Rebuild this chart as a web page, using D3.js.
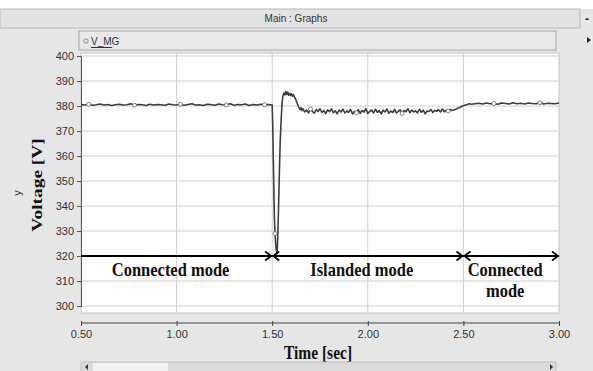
<!DOCTYPE html>
<html>
<head>
<meta charset="utf-8">
<script src="https://cdn.jsdelivr.net/npm/d3@7"></script>
<style>
  html, body { margin: 0; padding: 0; background: #e6e6e6; }
  svg { display: block; }
</style>
</head>
<body>
<div id="chart"></div>
<script>
// V_MG samples [time (s), voltage (V)]
const connectedBefore = [
  [0.50,380.6],[0.52,380.4],[0.54,380.7],[0.56,380.3],[0.58,380.5],[0.60,380.8],[0.62,380.4],[0.64,380.6],[0.66,380.2],[0.68,380.5],
  [0.70,380.7],[0.72,380.4],[0.74,380.5],[0.76,380.9],[0.78,380.3],[0.80,380.6],[0.82,380.5],[0.84,380.2],[0.86,380.7],[0.88,380.4],
  [0.90,380.6],[0.92,380.5],[0.94,380.3],[0.96,380.8],[0.98,380.5],[1.00,380.4],[1.02,380.7],[1.04,380.3],[1.06,380.6],[1.08,380.9],
  [1.10,380.4],[1.12,380.5],[1.14,380.2],[1.16,380.7],[1.18,380.6],[1.20,380.3],[1.22,380.8],[1.24,380.5],[1.26,380.4],[1.28,380.9],
  [1.30,380.3],[1.32,380.6],[1.34,380.5],[1.36,380.8],[1.38,380.2],[1.40,380.6],[1.42,380.4],[1.44,380.7],[1.46,380.5],[1.48,380.6]
];
const islandingDip = [
  [1.500,380.4],[1.503,372],[1.506,358],[1.509,345],[1.512,334],[1.515,329],[1.518,325],[1.521,322.5],[1.524,321.5],[1.527,323],
  [1.530,330],[1.534,342],[1.538,355],[1.542,366],[1.547,375],[1.552,381.5],[1.556,384],[1.561,385.2],[1.566,384.4],[1.571,385.8],
  [1.576,384.6],[1.581,385.6],[1.586,384.3],[1.591,385.1],[1.596,384.2],[1.601,384.9],[1.606,383.9],[1.611,384.5],[1.616,383.6],[1.621,383.0],
  [1.626,382.0],[1.631,381.0],[1.636,380.0],[1.641,379.2],[1.646,378.6],[1.651,379.3],[1.656,378.2]
];
const islanded = [
  [1.66,378.9],[1.67,377.6],[1.68,378.4],[1.69,377.2],[1.70,378.8],[1.71,377.9],[1.72,377.1],[1.73,378.6],[1.74,377.8],[1.75,378.9],
  [1.76,377.4],[1.77,378.2],[1.78,377.0],[1.79,378.5],[1.80,377.7],[1.81,378.8],[1.82,377.3],[1.83,378.1],[1.84,376.9],[1.85,378.4],
  [1.86,377.6],[1.87,378.7],[1.88,377.2],[1.89,378.0],[1.90,377.5],[1.91,378.6],[1.92,376.8],[1.93,377.9],[1.94,377.3],[1.95,378.5],
  [1.96,377.1],[1.97,378.2],[1.98,377.6],[1.99,378.9],[2.00,377.0],[2.01,377.8],[2.02,378.4],[2.03,377.2],[2.04,378.7],[2.05,377.5],
  [2.06,378.1],[2.07,376.9],[2.08,378.3],[2.09,377.6],[2.10,378.8],[2.11,377.1],[2.12,378.0],[2.13,377.4],[2.14,378.6],[2.15,377.2],
  [2.16,377.9],[2.17,378.5],[2.18,377.0],[2.19,378.2],[2.20,377.7],[2.21,378.9],[2.22,377.3],[2.23,378.4],[2.24,377.6],[2.25,378.1],
  [2.26,377.2],[2.27,378.7],[2.28,377.5],[2.29,378.3],[2.30,376.9],[2.31,378.0],[2.32,377.8],[2.33,378.6],[2.34,377.4],[2.35,378.2],
  [2.36,377.9],[2.37,378.5],[2.38,377.6],[2.39,378.8],[2.40,377.7],[2.41,378.3],[2.42,378.0],[2.43,378.6],[2.44,378.2]
];
const reconnect = [
  [2.45,378.4],[2.46,378.7],[2.47,379.1],[2.48,379.4],[2.49,379.8],[2.50,380.1],[2.51,380.4],[2.52,380.6],[2.53,380.9],[2.54,380.7]
];
const connectedAfter = [
  [2.56,380.9],[2.58,381.1],[2.60,380.8],[2.62,381.2],[2.64,380.9],[2.66,381.0],[2.68,380.7],[2.70,381.2],[2.72,381.0],[2.74,380.8],
  [2.76,381.3],[2.78,380.9],[2.80,381.1],[2.82,380.8],[2.84,381.2],[2.86,381.0],[2.88,380.9],[2.90,381.3],[2.92,380.8],[2.94,381.1],
  [2.96,381.0],[2.98,380.9],[3.00,381.2]
];
const markerTimes = [0.54, 0.78, 1.02, 1.26, 1.46, 1.515, 1.70, 1.94, 2.18, 2.42, 2.66, 2.90];

const xTicks = [0.5, 1.0, 1.5, 2.0, 2.5, 3.0];
const yTicks = [300, 310, 320, 330, 340, 350, 360, 370, 380, 390, 400];

const modes = [
  {label: ["Connected mode"], start: 0.5, end: 1.5, arrowStart: false},
  {label: ["Islanded mode"], start: 1.5, end: 2.5, arrowStart: true},
  {label: ["Connected", "mode"], start: 2.5, end: 3.0, arrowStart: true}
];
const modeLevel = 320;

const series = [].concat(connectedBefore, islandingDip, islanded, reconnect, connectedAfter);

const W = 593, H = 371;
const plot = {left: 81, right: 559, top: 56, bottom: 306};
const serif = "'Liberation Serif', 'Times New Roman', serif";
const sans = "'Liberation Sans', Arial, sans-serif";

const svg = d3.select("#chart").append("svg")
  .attr("width", W)
  .attr("height", H);

svg.append("rect").attr("width", W).attr("height", H).attr("fill", "#e6e6e6");
svg.append("rect").attr("width", W).attr("height", 9).attr("fill", "#ffffff");

// window title bar
svg.append("rect")
  .attr("x", 0).attr("y", 9).attr("width", 580).attr("height", 19)
  .attr("fill", "#e2e2e2").attr("stroke", "#b8b8b8");
svg.append("text")
  .attr("x", 296).attr("y", 22)
  .attr("text-anchor", "middle")
  .attr("font-family", sans).attr("font-size", "10px").attr("fill", "#333")
  .text("Main : Graphs");
svg.append("text")
  .attr("x", 587).attr("y", 23)
  .attr("text-anchor", "middle")
  .attr("font-family", sans).attr("font-size", "12px").attr("font-weight", "bold").attr("fill", "#222")
  .text("-");
svg.append("path").attr("d", "M587,37 L591,40 L587,43 Z").attr("fill", "#222");

// legend strip
svg.append("rect")
  .attr("x", 79).attr("y", 31).attr("width", 477).attr("height", 19)
  .attr("fill", "#e9e9e9").attr("stroke", "#a8a8a8");
svg.append("circle")
  .attr("cx", 86).attr("cy", 41).attr("r", 2.2)
  .attr("fill", "none").attr("stroke", "#777").attr("stroke-width", 0.8);
svg.append("text")
  .attr("x", 91).attr("y", 45)
  .attr("font-family", sans).attr("font-size", "10px").attr("fill", "#333")
  .text("V_MG");
svg.append("line")
  .attr("x1", 91).attr("x2", 112).attr("y1", 47.5).attr("y2", 47.5)
  .attr("stroke", "#333").attr("stroke-width", 1);

// plot background
svg.append("rect")
  .attr("x", plot.left).attr("y", 53)
  .attr("width", plot.right - plot.left).attr("height", 260)
  .attr("fill", "#ffffff").attr("stroke", "#c4c4c4");

const x = d3.scaleLinear().domain([0.5, 3.0]).range([plot.left, plot.right]);
const y = d3.scaleLinear().domain([300, 400]).range([plot.bottom, plot.top]);

// grid
svg.append("g").selectAll("line")
  .data(yTicks)
  .join("line")
  .attr("x1", plot.left).attr("x2", plot.right)
  .attr("y1", d => y(d)).attr("y2", d => y(d))
  .attr("stroke", "#cfcfcf").attr("stroke-width", 1);
svg.append("g").selectAll("line")
  .data(xTicks.slice(1, -1))
  .join("line")
  .attr("x1", d => x(d)).attr("x2", d => x(d))
  .attr("y1", 53).attr("y2", 313)
  .attr("stroke", "#cfcfcf").attr("stroke-width", 1);

// left axis
const yAxis = svg.append("g")
  .attr("transform", `translate(${plot.left},0)`)
  .call(d3.axisLeft(y).tickValues(yTicks).tickSize(4).tickPadding(3).tickFormat(d3.format("d")));
yAxis.select(".domain").attr("stroke", "#555");
yAxis.selectAll(".tick line").attr("stroke", "#555");
yAxis.selectAll("text")
  .attr("font-family", sans).attr("font-size", "11px").attr("fill", "#333");

// separate time axis below the plot
const xAxis = svg.append("g")
  .attr("transform", "translate(0,323)")
  .call(d3.axisBottom(x).tickValues(xTicks).tickSize(3).tickPadding(4).tickFormat(d3.format(".2f")));
xAxis.select(".domain").attr("stroke", "#444").attr("d", `M${plot.left},0H${plot.right}`);
xAxis.selectAll(".tick line").attr("stroke", "#444").attr("y1", -2);
xAxis.selectAll("text")
  .attr("font-family", sans).attr("font-size", "11px").attr("fill", "#333");

// axis titles (the source picture is stretched vertically, hence the scales)
svg.append("text")
  .attr("transform", "translate(318,359) scale(1,1.25)")
  .attr("text-anchor", "middle")
  .attr("font-family", serif).attr("font-size", "15.5px").attr("font-weight", "bold").attr("fill", "#111")
  .text("Time [sec]");
svg.append("text")
  .attr("transform", "translate(42,185) rotate(-90) scale(1.25,1)")
  .attr("text-anchor", "middle")
  .attr("font-family", serif).attr("font-size", "15.5px").attr("font-weight", "bold").attr("fill", "#111")
  .text("Voltage [V]");
svg.append("text")
  .attr("transform", "translate(21,193) rotate(-90)")
  .attr("text-anchor", "middle")
  .attr("font-family", sans).attr("font-size", "11px").attr("fill", "#333")
  .text("y");

// scrollbar
svg.append("rect")
  .attr("x", 81).attr("y", 362).attr("width", 475).attr("height", 10)
  .attr("fill", "#dadada").attr("stroke", "#c0c0c0");
svg.append("rect")
  .attr("x", 93).attr("y", 363).attr("width", 75).attr("height", 8)
  .attr("fill", "#f2f2f2");
svg.append("path").attr("d", "M88,364 L85,367 L88,370 Z").attr("fill", "#333");
svg.append("path").attr("d", "M550,364 L553,367 L550,370 Z").attr("fill", "#333");

// V_MG trace
const line = d3.line().x(d => x(d[0])).y(d => y(d[1]));
svg.append("path")
  .datum(series)
  .attr("fill", "none")
  .attr("stroke", "#3e3e3e")
  .attr("stroke-width", 1.6)
  .attr("stroke-linejoin", "round")
  .attr("d", line);

svg.append("g").selectAll("circle")
  .data(series.filter(d => markerTimes.some(t => Math.abs(t - d[0]) < 1e-6)))
  .join("circle")
  .attr("cx", d => x(d[0])).attr("cy", d => y(d[1]))
  .attr("r", 2)
  .attr("fill", "#ffffff").attr("stroke", "#666").attr("stroke-width", 0.8);

// operating mode annotations
const ann = svg.append("g");
ann.append("line")
  .attr("x1", x(0.5)).attr("x2", x(3.0))
  .attr("y1", y(modeLevel)).attr("y2", y(modeLevel))
  .attr("stroke", "#000").attr("stroke-width", 1.8);

modes.forEach(m => {
  const yy = y(modeLevel);
  const xe = x(m.end);
  ann.append("path")
    .attr("d", `M${xe - 7},${yy - 4.5} L${xe - 1},${yy} L${xe - 7},${yy + 4.5}`)
    .attr("fill", "none").attr("stroke", "#000").attr("stroke-width", 1.8);
  if (m.arrowStart) {
    const xs = x(m.start);
    ann.append("path")
      .attr("d", `M${xs + 7},${yy - 4.5} L${xs + 1},${yy} L${xs + 7},${yy + 4.5}`)
      .attr("fill", "none").attr("stroke", "#000").attr("stroke-width", 1.8);
  }
  const cx = (x(m.start) + x(m.end)) / 2 - 6;
  // one text element per line so the line boxes do not collide
  m.label.forEach((s, i) => {
    ann.append("text")
      .attr("transform", `translate(${cx},${yy + 20 + i * 20.5}) scale(1,1.1)`)
      .attr("text-anchor", "middle")
      .attr("font-family", serif).attr("font-size", "16.5px").attr("font-weight", "bold").attr("fill", "#111")
      .text(s);
  });
});
</script>
</body>
</html>
